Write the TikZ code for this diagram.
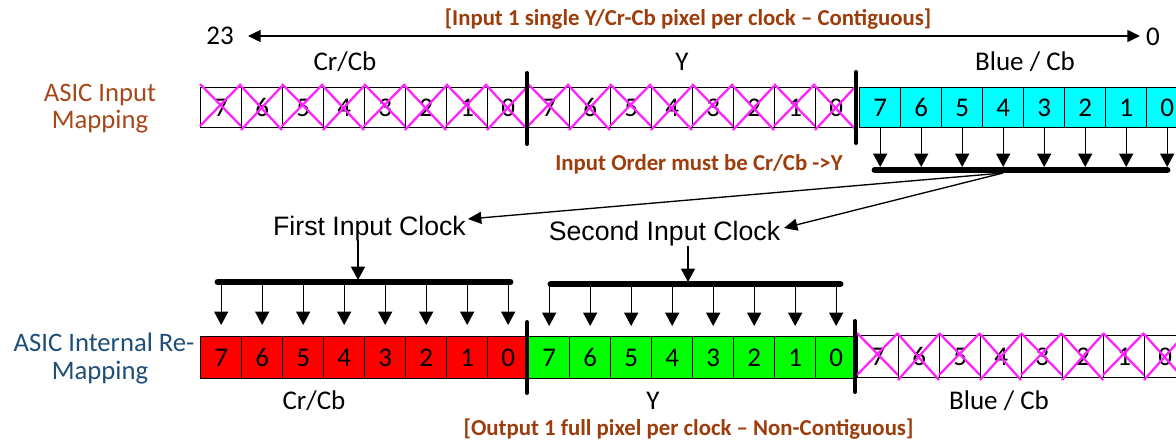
\documentclass[tikz,border=0pt]{standalone}
\usepackage{fontspec}
\setmainfont{Carlito}
\newfontfamily\arialf{Liberation Sans}
\usetikzlibrary{arrows.meta}
\definecolor{brownT}{HTML}{9E3D0C}
\definecolor{asicO}{HTML}{A8481A}
\definecolor{asicB}{HTML}{1F4E79}
\definecolor{xmag}{HTML}{FF22FF}
\definecolor{cyanF}{HTML}{00FFFF}
\definecolor{redF}{HTML}{FF0000}
\definecolor{greenF}{HTML}{00FF00}
\begin{document}
\begin{tikzpicture}[x=0.75pt,y=-0.75pt,
  lbl/.style={anchor=base,inner sep=0pt,font=\fontsize{20.25pt}{24pt}\selectfont},
  asic/.style={anchor=base,inner sep=0pt,font=\fontsize{20pt}{24pt}\selectfont},
  ttl/.style={anchor=base,inner sep=0pt,text=brownT,font=\bfseries\fontsize{17.1pt}{20pt}\selectfont},
  clk/.style={anchor=base,inner sep=0pt,font=\arialf\fontsize{20pt}{24pt}\selectfont},
  cellbox/.style={draw=black,line width=1pt,anchor=north west,minimum width=30.75pt,minimum height=30pt,inner sep=0pt,font=\fontsize{20.25pt}{24pt}\selectfont},
  lowbox/.style={cellbox,minimum height=31.5pt},
  xline/.style={draw=xmag,line width=1.7pt},
  tip/.style={-{Triangle[length=10pt,width=10.5pt]},line width=1pt},
  bothtip/.style={{Triangle[length=9.5pt,width=9pt]}-{Triangle[length=9.5pt,width=9pt]},line width=1pt},
  fantip/.style={-{Triangle[length=10pt,width=9pt]},line width=1pt},
  bar/.style={line width=5.2pt,line cap=round},
  sep/.style={line width=3pt,line cap=round},
]
\clip (0,0) rectangle (1176,440);
\fill[white] (0,0) rectangle (1176,440);

% ---------- titles ----------
\node[ttl] (title) at (688,25) {[Input 1 single Y/Cr-Cb pixel per clock – Contiguous]};
\node[ttl] (order) at (699,170) {Input Order must be Cr/Cb ->Y};
\node[ttl] (otitle) at (688.5,435) {[Output 1 full pixel per clock – Non-Contiguous]};

% ---------- bit span ----------
\node[lbl] (n23) at (220,44) {23};
\node[lbl] (n0) at (1153,45) {0};
\coordinate (spanL) at (248,36);
\coordinate (spanR) at (1140,36);
\draw[bothtip] (spanL) -- (spanR);

% ---------- side labels ----------
\node[asic,text=asicO] (ai1) at (100,101) {ASIC Input};
\node[asic,text=asicO] (ai2) at (100,128) {Mapping};
\node[asic,text=asicB] (ar1) at (104,351) {ASIC Internal Re-};
\node[asic,text=asicB] (ar2) at (100,379) {Mapping};

% ---------- field labels ----------
\node[lbl] (tlA) at (345,70) {Cr/Cb};
\node[lbl] (tlB) at (682,70) {Y};
\node[lbl] (tlC) at (1025,70) {Blue / Cb};
\node[lbl] (blA) at (314,409) {Cr/Cb};
\node[lbl] (blB) at (653,409) {Y};
\node[lbl] (blC) at (999,409) {Blue / Cb};

% ---------- top row ----------
\foreach \d [count=\k from 0] in {7,6,5,4,3,2,1,0} {
  \pgfmathsetmacro\xa{200+41*\k}
  \pgfmathsetmacro\xb{528+41*\k}
  \pgfmathsetmacro\xc{859+41*\k}
  \pgfmathsetmacro\yt{mod(\k,2)==0 ? 84 : 86}
  \pgfmathsetmacro\yb{mod(\k,2)==0 ? 126 : 130}
  \node[cellbox] (ta\k) at (\xa,87) {\d};
  \node[cellbox] (tb\k) at (\xb,87) {\d};
  \node[cellbox,fill=cyanF] (tc\k) at (\xc,87) {\d};
  \draw[xline] (\xa,\yt) -- ({\xa+41},\yb) (\xa,\yb) -- ({\xa+41},\yt);
  \draw[xline] (\xb,\yt) -- ({\xb+41},\yb) (\xb,\yb) -- ({\xb+41},\yt);
}
\coordinate (tsep1a) at (527,73); \coordinate (tsep1b) at (527,144);
\coordinate (tsep2a) at (856,72); \coordinate (tsep2b) at (856,143);
\draw[sep] (tsep1a) -- (tsep1b);
\draw[sep] (tsep2a) -- (tsep2b);

% top bar with arrows
\coordinate (tbL) at (875,170);
\coordinate (tbR) at (1167,170);
\coordinate (tbT) at (0,167);
\draw[bar] (tbL) -- (tbR);
\foreach \k in {0,...,7} {
  \draw[tip] (tc\k.south) -- (tc\k.south |- tbT);
}

% fan arrows
\coordinate (fan) at (1003,173);
\coordinate (firstTip) at (468,219);
\coordinate (secondTip) at (784,228);
\draw[fantip] (fan) -- (firstTip);
\draw[fantip] (fan) -- (secondTip);

% ---------- clock labels ----------
\node[clk] (fclk) at (369.5,235) {First Input Clock};
\node[clk] (sclk) at (664.5,240) {Second Input Clock};

% ---------- bottom row ----------
\foreach \d [count=\k from 0] in {7,6,5,4,3,2,1,0} {
  \pgfmathsetmacro\xa{200+41*\k}
  \pgfmathsetmacro\xb{528+41*\k}
  \pgfmathsetmacro\xc{857+41*\k}
  \pgfmathsetmacro\yt{mod(\k,2)==0 ? 333 : 334}
  \pgfmathsetmacro\yb{mod(\k,2)==0 ? 375 : 380}
  \node[lowbox,fill=redF] (ra\k) at (\xa,336) {\d};
  \node[lowbox,fill=greenF] (rb\k) at (\xb,336) {\d};
  \node[lowbox] (rc\k) at (\xc,335) {\d};
  \draw[xline] (\xc,\yt) -- ({\xc+41},\yb) (\xc,\yb) -- ({\xc+41},\yt);
}
\coordinate (bsep1a) at (527,322); \coordinate (bsep1b) at (527,393);
\coordinate (bsep2a) at (855,321); \coordinate (bsep2b) at (855,392);
\draw[sep] (bsep1a) -- (bsep1b);
\draw[sep] (bsep2a) -- (bsep2b);

% first clock bar
\coordinate (b1L) at (218,282);
\coordinate (b1R) at (510,282);
\coordinate (b1T) at (0,280);
\coordinate (b1D) at (0,325);
\draw[bar] (b1L) -- (b1R);
\coordinate (fclkS) at (358,240);
\draw[tip] (fclkS) -- (fclkS |- b1T);
\foreach \k in {0,...,7} {
  \draw[tip] (ra\k.north |- b1L) -- (ra\k.north |- b1D);
}

% second clock bar
\coordinate (b2L) at (551,284);
\coordinate (b2R) at (840,284);
\coordinate (b2T) at (0,282);
\coordinate (b2D) at (0,326);
\draw[bar] (b2L) -- (b2R);
\coordinate (sclkS) at (688,246);
\draw[tip] (sclkS) -- (sclkS |- b2T);
\foreach \k in {0,...,7} {
  \draw[tip] (rb\k.north |- b2L) -- (rb\k.north |- b2D);
}
\end{tikzpicture}
\end{document}
